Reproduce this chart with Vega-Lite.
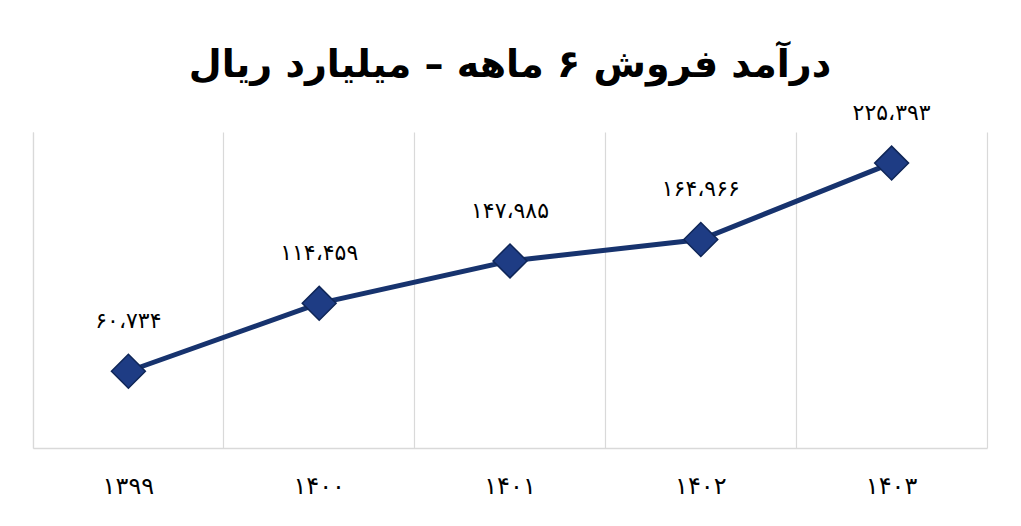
{
  "$schema": "https://vega.github.io/schema/vega-lite/v6.json",
  "description": "Six-month sales revenue, billion rials",
  "width": 954,
  "height": 316,
  "autosize": "none",
  "padding": {"left": 33, "top": 132, "right": 34, "bottom": 78},
  "background": "white",
  "config": {
    "view": {"stroke": null},
    "font": "DejaVu Sans"
  },
  "title": {
    "text": "درآمد فروش ۶ ماهه – میلیارد ریال",
    "font": "DejaVu Sans",
    "fontSize": 38,
    "fontWeight": "bold",
    "color": "black",
    "anchor": "middle",
    "offset": 17
  },
  "data": {
    "values": [
      {"year": "۱۳۹۹", "revenue": 60734, "label": "۶۰،۷۳۴"},
      {"year": "۱۴۰۰", "revenue": 114459, "label": "۱۱۴،۴۵۹"},
      {"year": "۱۴۰۱", "revenue": 147985, "label": "۱۴۷،۹۸۵"},
      {"year": "۱۴۰۲", "revenue": 164966, "label": "۱۶۴،۹۶۶"},
      {"year": "۱۴۰۳", "revenue": 225393, "label": "۲۲۵،۳۹۳"}
    ]
  },
  "encoding": {
    "x": {
      "field": "year",
      "type": "nominal",
      "sort": null,
      "title": null,
      "scale": {"type": "band", "paddingInner": 0, "paddingOuter": 0},
      "axis": {
        "labelAngle": 0,
        "labelFontSize": 24,
        "labelColor": "black",
        "labelPadding": 26,
        "ticks": false,
        "domainColor": "#d9d9d9",
        "domainWidth": 1.5,
        "grid": true,
        "gridColor": "#d9d9d9",
        "gridWidth": 1.2,
        "bandPosition": 0
      }
    }
  },
  "layer": [
    {
      "mark": {"type": "line", "color": "#17336e", "strokeWidth": 5},
      "encoding": {
        "y": {
          "field": "revenue",
          "type": "quantitative",
          "scale": {"domain": [0, 250000]},
          "axis": {"orient": "left", "title": null, "labels": false, "ticks": false, "grid": false, "domainColor": "#d9d9d9", "domainWidth": 1.2}
        }
      }
    },
    {
      "mark": {"type": "point", "shape": "diamond", "size": 1150, "filled": true, "color": "#1e3c84", "stroke": "#0f2658", "strokeWidth": 1.5, "opacity": 1},
      "encoding": {
        "y": {"field": "revenue", "type": "quantitative", "scale": {"domain": [0, 250000]}, "axis": null}
      }
    },
    {
      "mark": {"type": "text", "dy": -50, "fontSize": 22, "color": "black", "font": "DejaVu Sans"},
      "encoding": {
        "y": {
          "field": "revenue",
          "type": "quantitative",
          "scale": {"domain": [0, 250000]},
          "axis": {"orient": "right", "title": null, "labels": false, "ticks": false, "grid": false, "domainColor": "#d9d9d9", "domainWidth": 1.2}
        },
        "text": {"field": "label"}
      }
    }
  ],
  "resolve": {"axis": {"y": "independent"}}
}
